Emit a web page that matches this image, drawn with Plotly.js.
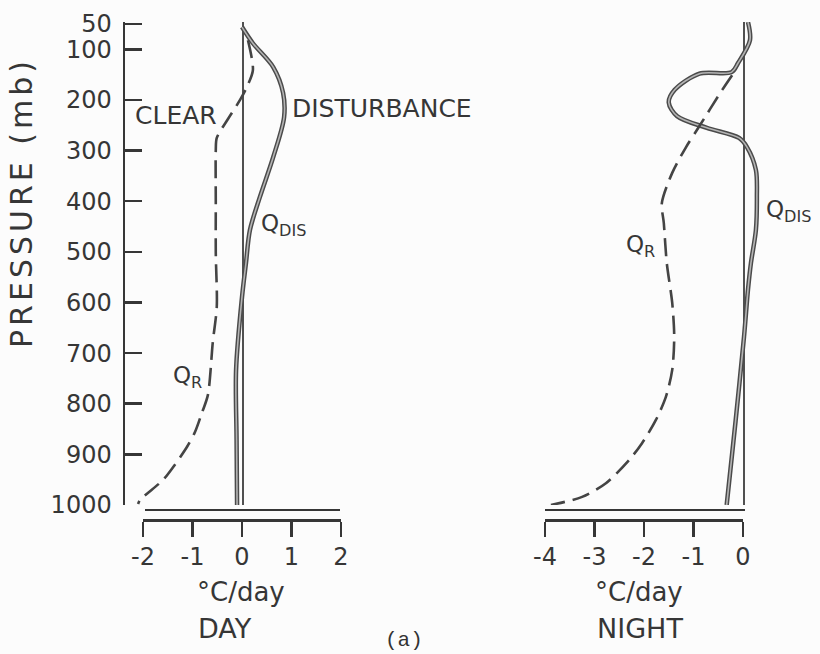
<!DOCTYPE html>
<html>
<head>
<meta charset="utf-8">
<script src="https://cdn.plot.ly/plotly-3.0.1.min.js"></script>
<style>html,body{margin:0;padding:0;background:#fcfcfc;}</style>
</head>
<body>
<div id="chart" style="width:820px;height:654px;"></div>
<script>
// ---- DATA ----
// DAY panel
const dayQdisPressure = [56, 88, 135, 186, 234, 313, 392, 457, 522, 589, 733, 870, 1000];
const dayQdis         = [-0.02, 0.2, 0.61, 0.81, 0.83, 0.61, 0.34, 0.14, 0.06, -0.02, -0.14, -0.13, -0.12];
const dayQrPressure   = [82, 141, 174, 200, 240, 275, 299, 398, 502, 609, 678, 783, 818, 856, 885, 925, 951, 990, 998];
const dayQr           = [0.1, 0.2, 0.08, -0.06, -0.32, -0.53, -0.55, -0.55, -0.55, -0.53, -0.61, -0.71, -0.83, -0.97, -1.13, -1.41, -1.62, -2.08, -2.12];
// NIGHT panel
const nightQdisPressure = [46, 82, 127, 145, 148, 180, 205, 232, 255, 275, 293, 338, 392, 457, 522, 575, 668, 834, 1000];
const nightQdis         = [0.08, 0.12, -0.12, -0.25, -0.9, -1.4, -1.52, -1.35, -0.75, -0.1, 0.06, 0.24, 0.26, 0.24, 0.14, 0.08, 0.0, -0.17, -0.35];
const nightQrPressure   = [151, 180, 253, 293, 344, 404, 443, 522, 601, 668, 733, 787, 832, 878, 911, 957, 984, 1000];
const nightQr           = [-0.24, -0.44, -0.91, -1.17, -1.45, -1.66, -1.62, -1.56, -1.45, -1.41, -1.45, -1.58, -1.78, -2.06, -2.32, -2.79, -3.27, -3.9];
// Ticks
const pressureTicks = [50, 100, 200, 300, 400, 500, 600, 700, 800, 900, 1000];
const pressureTickText = ['50', '100', '200', '300', '400', '500', '600', '700', '800', '900', '1000'];
const dayTicks = [-2, -1, 0, 1, 2];
const dayTickText = ['-2', '-1', '0', '1', '2'];
const nightTicks = [-4, -3, -2, -1, 0];
const nightTickText = ['-4', '-3', '-2', '-1', '0'];

// ---- LAYOUT HELPERS (pixel -> paper) ----
const W = 820, H = 654;
const px = v => v / W;
const py = v => 1 - v / H;

const ink = '#363636';
const FONT = 'DejaVu Sans';

function solidPair(x, y, xa) {
  return [
    {x: x, y: y, xaxis: xa, yaxis: 'y', mode: 'lines', hoverinfo: 'skip',
     line: {color: '#4a4a4a', width: 4.5, shape: 'spline', smoothing: 0.9}},
    {x: x, y: y, xaxis: xa, yaxis: 'y', mode: 'lines', hoverinfo: 'skip',
     line: {color: '#b4b4b4', width: 1.6, shape: 'spline', smoothing: 0.9}}
  ];
}
function dashed(x, y, xa) {
  return {x: x, y: y, xaxis: xa, yaxis: 'y', mode: 'lines', hoverinfo: 'skip',
          line: {color: '#444', width: 2.6, dash: '18px,8px', shape: 'spline', smoothing: 0.8}};
}
// invisible anchors so the free-standing axes get drawn
function holder(xs, xa) {
  return {x: xs, y: xs.map(() => 1000), xaxis: xa, yaxis: 'y', mode: 'markers',
          hoverinfo: 'skip', marker: {opacity: 0, size: 1}};
}

const traces = [].concat(
  solidPair(dayQdis, dayQdisPressure, 'x'),
  [dashed(dayQr, dayQrPressure, 'x')],
  solidPair(nightQdis, nightQdisPressure, 'x2'),
  [dashed(nightQr, nightQrPressure, 'x2')],
  [holder(dayTicks, 'x3'), holder(nightTicks, 'x4'), holder([0, 1], 'x5'), holder([0, 1], 'x6')]
);

const dataAxis = (d0, d1, r0, r1) => ({
  domain: [px(d0), px(d1)], range: [r0, r1], anchor: 'y',
  showline: false, showticklabels: false, ticks: '', showgrid: false,
  zeroline: true, zerolinecolor: '#505050', zerolinewidth: 1.6, fixedrange: true
});
const displayAxis = (d0, d1, r, tv, tt) => ({
  domain: [px(d0), px(d1)], range: r, anchor: 'free', position: py(520),
  showline: true, linecolor: ink, linewidth: 2.5,
  ticks: 'outside', ticklen: 15, tickwidth: 2.5, tickcolor: ink,
  tickvals: tv, ticktext: tt, tickfont: {family: FONT, size: 24, color: ink},
  showgrid: false, zeroline: false, fixedrange: true
});
const baseAxis = (d0, d1) => ({
  domain: [px(d0), px(d1)], range: [0, 1], anchor: 'free', position: py(510),
  showline: true, linecolor: ink, linewidth: 2.2, ticks: '', showticklabels: false,
  showgrid: false, zeroline: false, fixedrange: true
});

const ann = (text, x, y, size, opts) => Object.assign({
  text: text, x: px(x), y: py(y), xref: 'paper', yref: 'paper',
  showarrow: false, xanchor: 'center', yanchor: 'middle',
  font: {family: FONT, size: size, color: ink}
}, opts || {});

const layout = {
  width: W, height: H,
  margin: {l: 0, r: 0, t: 0, b: 0},
  paper_bgcolor: '#fcfcfc', plot_bgcolor: 'rgba(0,0,0,0)',
  showlegend: false,
  yaxis: {
    domain: [py(505), py(22)], range: [1000, 46], anchor: 'x',
    showline: true, linecolor: ink, linewidth: 2.5,
    ticks: 'inside', ticklen: 17, tickwidth: 2.5, tickcolor: ink,
    tickvals: pressureTicks, ticktext: pressureTickText,
    tickfont: {family: FONT, size: 24, color: ink}, ticklabelstandoff: 6,
    showgrid: false, zeroline: false, fixedrange: true
  },
  xaxis: dataAxis(125, 362, -2.384, 2.404),
  xaxis2: dataAxis(540, 760, -4.121, 0.323),
  xaxis3: displayAxis(143, 341, [-2, 2], dayTicks, dayTickText),
  xaxis4: displayAxis(545, 743, [-4, 0], nightTicks, nightTickText),
  xaxis5: baseAxis(145, 340),
  xaxis6: baseAxis(545, 745),
  annotations: [
    ann('<span style="letter-spacing:4px">PRESSURE (mb)</span>', 22, 203, 30, {textangle: -90}),
    ann('°C/day', 241, 592, 26),
    ann('DAY', 225, 628, 27),
    ann('°C/day', 639, 592, 26),
    ann('NIGHT', 640, 628, 27),
    ann('(a)', 404, 640, 21, {font: {family: 'Liberation Mono', size: 21, color: '#333'}}),
    ann('CLEAR', 133, 115, 25, {xanchor: 'left'}),
    ann('DISTURBANCE', 290, 109, 25, {xanchor: 'left'}),
    ann('Q<sub>DIS</sub>', 259, 225, 23, {xanchor: 'left'}),
    ann('Q<sub>R</sub>', 171, 377, 23, {xanchor: 'left'}),
    ann('Q<sub>R</sub>', 624, 246, 23, {xanchor: 'left'}),
    ann('Q<sub>DIS</sub>', 764, 211, 23, {xanchor: 'left'})
  ]
};

Plotly.newPlot('chart', traces, layout, {staticPlot: true, displayModeBar: false});
</script>
</body>
</html>
